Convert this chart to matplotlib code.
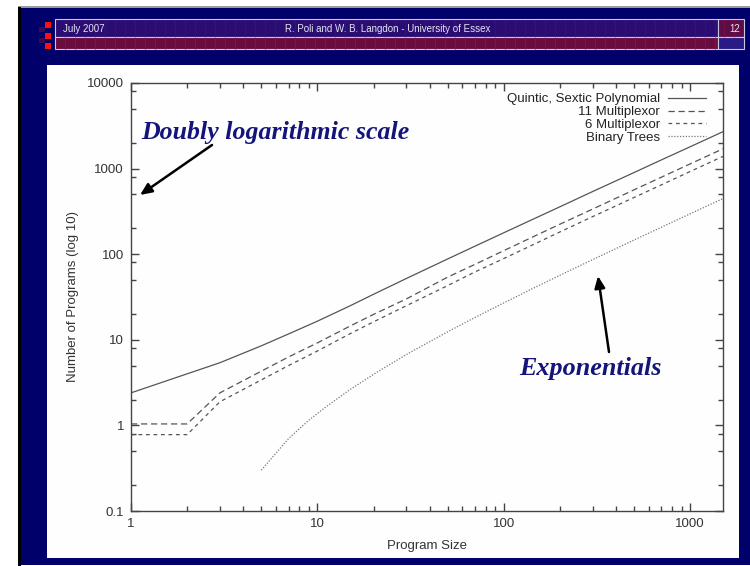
import matplotlib
matplotlib.use("Agg")
import matplotlib.pyplot as plt
from matplotlib.patches import Rectangle, FancyArrowPatch
from matplotlib.ticker import LogLocator, NullFormatter, FixedFormatter, FixedLocator
from matplotlib.lines import Line2D

# ---------------- data ----------------
sizes_poly = [1, 3, 5, 7, 10, 15, 20, 30, 50, 70, 100, 150, 200, 300, 500, 700, 1000, 1500]
poly = [2.4, 5.4, 8.5, 11.7, 16.5, 25, 34, 52, 88, 124, 178, 268, 358, 540, 900, 1262, 1800, 2700]

sizes_mux = [1, 2, 3, 5, 7, 10, 15, 20, 30, 50, 70, 100, 150, 200, 300, 500, 700, 1000, 1500]
mux11 = [1.04, 1.04, 2.4, 4.3, 6.3, 9.2, 14.5, 19.8, 30, 54, 76, 110, 167, 224, 337, 565, 793, 1135, 1705]
mux6 = [0.78, 0.78, 1.89, 3.4, 5.0, 7.4, 11.8, 16.2, 25, 43, 62, 89, 135, 182, 275, 460, 645, 925, 1390]

sizes_bt = [5, 7, 9, 11, 15, 21, 31, 51, 71, 101, 151, 201, 301, 501, 701, 1001, 1501]
btrees = [0.30, 0.70, 1.15, 1.62, 2.63, 4.22, 7.0, 12.7, 18.5, 27.3, 42.1, 57.0, 86.8, 146.7, 206.7, 296.7, 447]

labels = ["Quintic, Sextic Polynomial", "11 Multiplexor", "6 Multiplexor", "Binary Trees"]
ytick_vals = [0.1, 1, 10, 100, 1000, 10000]
ytick_labels = ["0.1", "1", "10", "100", "1000", "10000"]
xtick_vals = [1, 10, 100, 1000]
xtick_labels = ["1", "10", "100", "1000"]

# ---------------- figure ----------------
W, H = 750, 566
fig = plt.figure(figsize=(W / 100, H / 100), dpi=100)
fig.patch.set_facecolor("white")
plt.rcParams["font.family"] = ["Liberation Sans", "DejaVu Sans"]


def box(x0, y0, x1, y1, **kw):
    """rectangle given in image pixel coords (top-left origin)"""
    r = Rectangle((x0 / W, 1 - y1 / H), (x1 - x0) / W, (y1 - y0) / H,
                  transform=fig.transFigure, **kw)
    fig.patches.append(r)
    return r


def fx(x):
    return x / W


def fy(y):
    return 1 - y / H


# slide background
box(18, 6, 750, 8, facecolor="#9a9a9a", edgecolor="none", zorder=0)
box(18, 7, 21, 566, facecolor="#000000", edgecolor="none", zorder=0)
box(21, 8, 750, 565, facecolor="#00006b", edgecolor="none", zorder=0)

# header bars
box(55, 19, 718, 37, facecolor="#2a0c72", edgecolor="#c8c8e0", linewidth=0.8, zorder=1)
box(718, 19, 744, 37, facecolor="#5c0c48", edgecolor="#c8c8e0", linewidth=0.8, zorder=1)
box(55, 37, 718, 49, facecolor="#6a0c3e", edgecolor="#c8c8e0", linewidth=0.8, zorder=1)
box(718, 37, 744, 49, facecolor="#2a1a86", edgecolor="#c8c8e0", linewidth=0.8, zorder=1)
# subtle grid in the bars
for gx in range(65, 718, 10):
    fig.add_artist(Line2D([fx(gx), fx(gx)], [fy(37.5), fy(48.5)], transform=fig.transFigure,
                          color="#b01030", linewidth=0.6, alpha=0.7, zorder=2))
    fig.add_artist(Line2D([fx(gx), fx(gx)], [fy(19.5), fy(36.5)], transform=fig.transFigure,
                          color="#4a1a80", linewidth=0.5, alpha=0.6, zorder=2))
for gx in range(724, 744, 10):
    fig.add_artist(Line2D([fx(gx), fx(gx)], [fy(19.5), fy(36.5)], transform=fig.transFigure,
                          color="#a01040", linewidth=0.5, alpha=0.6, zorder=2))

# red squares at left of the header
for (x0, y0) in [(45, 22), (45, 33), (45, 43)]:
    box(x0, y0, x0 + 6, y0 + 6, facecolor="#ff1010", edgecolor="none", zorder=2)
for (x0, y0) in [(39, 27), (39, 38)]:
    box(x0, y0, x0 + 6, y0 + 5, facecolor="#3a0a50", edgecolor="none", zorder=2)

fig.text(fx(63), fy(29), "July 2007", color="#e4e4f4", fontsize=7, ha="left", va="center", zorder=3)
fig.text(fx(388), fy(29), "R. Poli and W. B. Langdon - University of Essex", color="#e4e4f4",
         fontsize=7, ha="center", va="center", zorder=3)
fig.text(fx(740), fy(29), "12", color="#e4e4f4", fontsize=7, ha="right", va="center", zorder=3)

# white panel
box(47, 65, 739, 558, facecolor="#fefefe", edgecolor="none", zorder=1)

# ---------------- axes ----------------
ax_l, ax_t, ax_r, ax_b = 131, 83, 723, 511
ax = fig.add_axes([ax_l / W, 1 - ax_b / H, (ax_r - ax_l) / W, (ax_b - ax_t) / H])
ax.set_facecolor("none")
ax.set_zorder(5)

gray = "#555555"
ax.plot(sizes_poly, poly, color=gray, linewidth=0.9, linestyle="-", label=labels[0])
ax.plot(sizes_mux, mux11, color=gray, linewidth=0.9, linestyle=(0, (5, 3)), label=labels[1])
ax.plot(sizes_mux, mux6, color=gray, linewidth=0.9, linestyle=(0, (3, 3)), label=labels[2])
ax.plot(sizes_bt, btrees, color="#777777", linewidth=0.9, linestyle=(0, (1, 1.3)), label=labels[3])

ax.set_xscale("log")
ax.set_yscale("log")
ax.set_xlim(1, 1500)
ax.set_ylim(0.1, 10000)

ax.xaxis.set_major_locator(FixedLocator(xtick_vals))
ax.xaxis.set_major_formatter(FixedFormatter(xtick_labels))
ax.xaxis.set_minor_locator(LogLocator(base=10, subs=[2, 3, 4, 5, 6, 7, 8, 9], numticks=20))
ax.xaxis.set_minor_formatter(NullFormatter())
ax.yaxis.set_major_locator(FixedLocator(ytick_vals))
ax.yaxis.set_major_formatter(FixedFormatter(ytick_labels))
ax.yaxis.set_minor_locator(LogLocator(base=10, subs=[2, 5, 8], numticks=20))
ax.yaxis.set_minor_formatter(NullFormatter())

ax.tick_params(which="both", direction="in", top=True, right=True, colors="#444444",
               labelcolor="#333333", labelsize=9.5, width=1.0)
ax.tick_params(which="major", length=6, pad=5)
ax.tick_params(which="minor", length=3.5)
for s in ax.spines.values():
    s.set_color("#444444")
    s.set_linewidth(1.0)

ax.set_xlabel("Program Size", fontsize=9.5, color="#333333", labelpad=7)
ax.set_ylabel("Number of Programs (log 10)", fontsize=9.5, color="#333333", labelpad=6)

leg = ax.legend(loc="upper right", bbox_to_anchor=((706 - ax_l) / (ax_r - ax_l), 1 - (93 - ax_t) / (ax_b - ax_t)),
                frameon=False, markerfirst=False, fontsize=9.5, handlelength=2.9, handletextpad=0.6,
                labelspacing=0.05, borderaxespad=0, borderpad=0)
for t in leg.get_texts():
    t.set_color("#222222")

# ---------------- annotations ----------------
navy = "#14147a"
fig.text(fx(275), fy(132), "Doubly logarithmic scale", color=navy, fontsize=18.6,
         family=["Liberation Serif", "DejaVu Serif"], fontweight="bold", fontstyle="italic",
         ha="center", va="center", zorder=10)
fig.text(fx(590), fy(369), "Exponentials", color=navy, fontsize=18.8,
         family=["Liberation Serif", "DejaVu Serif"], fontweight="bold", fontstyle="italic",
         ha="center", va="center", zorder=10)

arrow_kw = dict(arrowstyle="-|>,head_length=0.5,head_width=0.22", color="black", lw=1.8,
                shrinkA=0, shrinkB=0)
fig.add_artist(FancyArrowPatch((fx(212), fy(145)), (fx(140), fy(195)),
                               transform=fig.transFigure, zorder=10,
                               mutation_scale=14, **arrow_kw))
fig.add_artist(FancyArrowPatch((fx(609), fy(352)), (fx(598), fy(276)),
                               transform=fig.transFigure, zorder=10,
                               mutation_scale=14, **arrow_kw))

fig.savefig("out.png", dpi=100, facecolor=fig.get_facecolor())
